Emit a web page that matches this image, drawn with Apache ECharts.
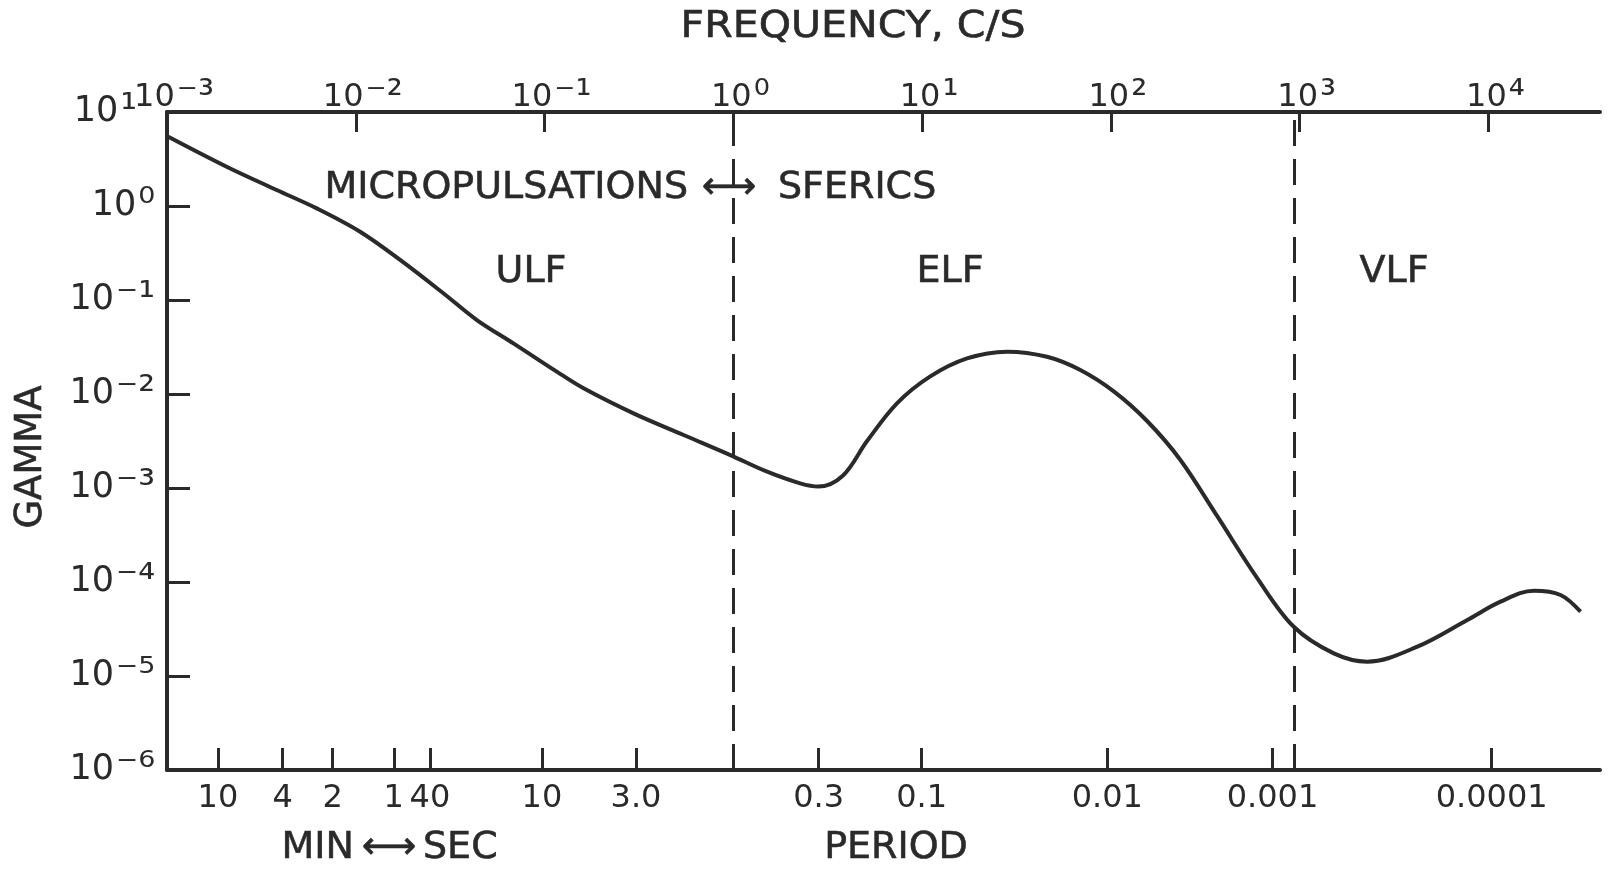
<!DOCTYPE html>
<html>
<head>
<meta charset="utf-8">
<script src="https://cdn.jsdelivr.net/npm/echarts@6/dist/echarts.min.js"></script>
<style>
  html, body { margin: 0; background: #fff; }
  #chart { width: 1610px; height: 869px; }
</style>
</head>
<body>
<div id="chart"></div>
<script>
// frequency (c/s) and field amplitude (gamma)
const freq = [1.016e-3, 2.07e-3, 3.81e-3, 6.21e-3, 1.054e-2, 1.718e-2, 2.91e-2, 4.38e-2, 6.84e-2,
  0.116, 0.161, 0.296, 0.545, 0.964, 1.51, 2.26, 2.82, 3.8, 5.11, 7.36, 11.0, 17.3, 28.2, 45.9,
  68.9, 104, 156, 233, 366, 596, 931, 1517, 2280, 4200, 7730, 11590, 17420, 24100, 30760];
const gamma = [5.46, 2.62, 1.48, 0.944, 0.533, 0.267, 0.118, 0.0612, 0.0346,
  0.0173, 0.0115, 6.22e-3, 3.66e-3, 2.24e-3, 1.49e-3, 1.12e-3, 1.035e-3, 1.35e-3, 3.16e-3, 7.96e-3, 0.0153, 0.0239, 0.0282, 0.0249,
  0.018, 0.0106, 5.13e-3, 2.0e-3, 5.01e-4, 1.1e-4, 3.34e-5, 1.74e-5, 1.42e-5, 2.05e-5, 3.94e-5, 6.18e-5, 8.09e-5, 7.28e-5, 4.83e-5];

const freqRange = [1e-3, 3.9e4];
const gammaRange = [1e-6, 10];
const freqExp = [-3, -2, -1, 0, 1, 2, 3, 4];

// period scale along the bottom: label and the frequency where its tick is drawn
const periodLabels = ['10', '4', '2', '1', '40', '10', '3.0', '0.3', '0.1', '0.01', '0.001', '0.0001'];
const periodTickFreq = [0.00186, 0.0041, 0.00755, 0.0159, 0.0247, 0.0968, 0.305, 2.83, 9.95, 95.7, 718, 10400];

// dashed boundaries ULF|ELF|VLF
const bandEdges = [1, 930];

const FONT = 'DejaVu Sans';
const INK = '#2a2a2a';
const lg = Math.log10;

const periodPos = periodTickFreq.map(lg);

const SUP = { '-': '\u207B', '0': '\u2070', '1': '\u00B9', '2': '\u00B2', '3': '\u00B3',
  '4': '\u2074', '5': '\u2075', '6': '\u2076', '7': '\u2077', '8': '\u2078', '9': '\u2079' };
const toSup = (n) => String(Math.round(n)).split('').map((c) => SUP[c]).join('');

const chart = echarts.init(document.getElementById('chart'), null, { renderer: 'canvas' });

const expRich = (base, sup) => ({
  b: { fontSize: base, fontFamily: FONT, color: INK },
  e: { fontSize: sup, fontFamily: FONT, color: INK, padding: [0, 0, 0, 2] },
  p: { width: 18 }
});

const txt = (text, x, y, size, align, extra) => Object.assign({
  type: 'text', x: x, y: y,
  style: {
    text: text, fill: INK, font: size + 'px "' + FONT + '"',
    stroke: INK, lineWidth: 0.6,
    align: align || 'center', verticalAlign: 'middle',
    textAlign: align || 'center', textVerticalAlign: 'middle'
  }
}, extra || {});

chart.setOption({
  animation: false,
  backgroundColor: '#fff',
  grid: { left: 167, top: 112, right: 10, bottom: 99, outerBoundsMode: 'none' },
  xAxis: [
    {
      type: 'value', position: 'top',
      min: lg(freqRange[0]), max: lg(freqRange[1]),
      axisLine: { onZero: false, lineStyle: { color: INK, width: 4 } },
      axisTick: { inside: true, length: 20, lineStyle: { color: INK, width: 3 }, customValues: freqExp },
      axisLabel: {
        customValues: freqExp, margin: -6,
        padding: [0, 0, 0, 14],
        formatter: (v) => '{b|10}{e|' + toSup(v) + '}',
        rich: expRich(32, 40)
      },
      splitLine: { show: false }
    },
    {
      type: 'value', position: 'bottom',
      min: lg(freqRange[0]), max: lg(freqRange[1]),
      axisLine: { onZero: false, lineStyle: { color: INK, width: 4 } },
      axisTick: { inside: true, length: 22, lineStyle: { color: INK, width: 3 }, customValues: periodPos },
      axisLabel: {
        customValues: periodPos, margin: 13,
        color: INK, fontFamily: FONT, fontSize: 32,
        formatter: (v) => {
          const i = periodPos.findIndex((p) => Math.abs(p - v) < 1e-6);
          return i >= 0 ? periodLabels[i] : '';
        }
      },
      splitLine: { show: false }
    }
  ],
  yAxis: {
    type: 'value',
    min: lg(gammaRange[0]), max: lg(gammaRange[1]), interval: 1,
    axisLine: { show: true, onZero: false, lineStyle: { color: INK, width: 4 } },
    axisTick: { show: true, inside: true, length: 23, lineStyle: { color: INK, width: 3 } },
    axisLabel: {
      margin: 12,
      // the top label steps left to clear the first frequency label
      formatter: (v) => '{b|10}{e|' + toSup(v) + '}' + (Math.round(v) === 1 ? '{p|}' : ''),
      rich: expRich(35, 42)
    },
    splitLine: { show: false }
  },
  series: [
    {
      type: 'line',
      xAxisIndex: 0,
      data: freq.map((f, i) => [lg(f), lg(gamma[i])]),
      smooth: 0.35,
      showSymbol: false,
      lineStyle: { color: INK, width: 4 },
      markLine: {
        silent: true,
        symbol: 'none',
        label: { show: false },
        lineStyle: { color: INK, width: 3, type: [26, 13] },
        data: bandEdges.map((f) => ({ xAxis: lg(f) }))
      }
    }
  ],
  graphic: {
    elements: [
      txt('FREQUENCY, C/S', 853, 27, 37, 'center', { scaleX: 1.11 }),
      txt('GAMMA', 31, 457, 37, 'center', { rotation: Math.PI / 2 }),
      txt('MICROPULSATIONS', 688, 188, 38, 'right'),
      txt('\u27F7', 729, 188, 38, 'center'),
      txt('SFERICS', 778, 188, 38, 'left'),
      txt('ULF', 531, 272, 38, 'center'),
      txt('ELF', 950, 272, 38, 'center'),
      txt('VLF', 1394, 272, 38, 'center'),
      txt('MIN', 354, 848, 38, 'right'),
      txt('\u27F7', 389, 848, 38, 'center'),
      txt('SEC', 423, 848, 38, 'left'),
      txt('PERIOD', 896, 848, 38, 'center')
    ]
  }
});
</script>
</body>
</html>
